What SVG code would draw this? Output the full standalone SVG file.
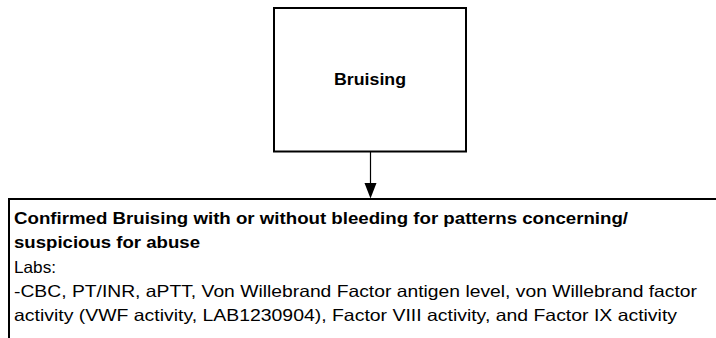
<svg xmlns="http://www.w3.org/2000/svg" width="716" height="338" viewBox="0 0 716 338">
<style>
.box{fill:#fff;stroke:#000;stroke-width:2}
.t{font-family:"Liberation Sans",Arial,sans-serif;font-size:16.5px;fill:#000}
.b{font-weight:bold}
.conn{stroke:#000;stroke-width:1.2;fill:none}
</style>
<defs>
<marker id="arr" markerWidth="12" markerHeight="16" refX="6" refY="15" orient="auto-start-reverse" markerUnits="userSpaceOnUse" viewBox="0 0 12 16">
<path d="M0,0 L12,0 L6,15 Z" fill="#000" transform="rotate(-90 6 8) translate(0 0)"/>
</marker>
</defs>
<rect width="716" height="338" fill="#fff"/>
<g id="connectors">
<line class="conn" x1="370.5" y1="152" x2="370.5" y2="184"/>
<path d="M364.5,183 L376.5,183 L370.5,198.5 Z" fill="#000"/>
</g>
<g id="node-bruising">
<rect class="box" x="274" y="8" width="192" height="143.5"/>
<text class="t b" x="370" y="85" text-anchor="middle" textLength="72" lengthAdjust="spacingAndGlyphs">Bruising</text>
</g>
<g id="node-confirmed">
<rect class="box" x="9" y="199" width="720" height="160"/>
<text class="t b" x="14" y="224" textLength="614" lengthAdjust="spacingAndGlyphs">Confirmed Bruising with or without bleeding for patterns concerning/</text>
<text class="t b" x="14" y="248" textLength="186" lengthAdjust="spacingAndGlyphs">suspicious for abuse</text>
<text class="t" x="14" y="273" textLength="42" lengthAdjust="spacingAndGlyphs">Labs:</text>
<text class="t" x="14" y="297" textLength="683" lengthAdjust="spacingAndGlyphs">-CBC, PT/INR, aPTT, Von Willebrand Factor antigen level, von Willebrand factor</text>
<text class="t" x="14" y="321" textLength="663" lengthAdjust="spacingAndGlyphs">activity (VWF activity, LAB1230904), Factor VIII activity, and Factor IX activity</text>
</g>
</svg>
